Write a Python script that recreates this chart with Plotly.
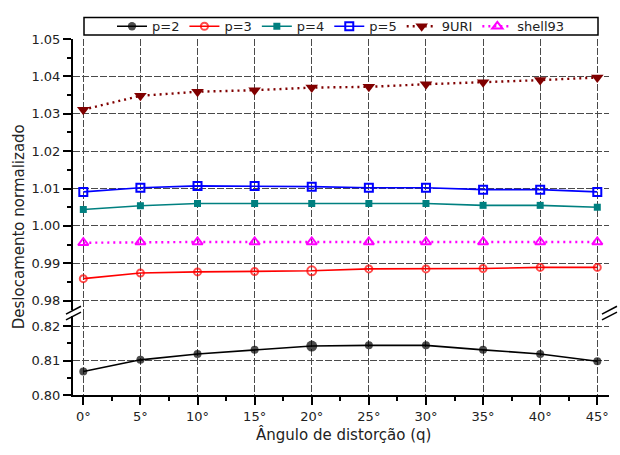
import plotly.graph_objects as go

# ---------------- data ----------------
angles = [0, 5, 10, 15, 20, 25, 30, 35, 40, 45]
angle_labels = ["0°", "5°", "10°", "15°", "20°", "25°", "30°", "35°", "40°", "45°"]

p2 = [0.8068, 0.8102, 0.8119, 0.8131, 0.8142, 0.8144, 0.8144, 0.8131, 0.8119, 0.8098]
p3 = [0.9859, 0.9874, 0.9877, 0.9878, 0.9880, 0.9885, 0.9885, 0.9886, 0.9889, 0.9889]
p4 = [1.0044, 1.0054, 1.0060, 1.0060, 1.0060, 1.0060, 1.0060, 1.0055, 1.0055, 1.0050]
p5 = [1.0091, 1.0102, 1.0107, 1.0107, 1.0105, 1.0102, 1.0102, 1.0097, 1.0097, 1.0091]
uri9 = [1.0311, 1.0348, 1.0359, 1.0363, 1.0370, 1.0372, 1.0379, 1.0384, 1.0390, 1.0397]
shell93 = [0.9955, 0.9957, 0.9957, 0.9957, 0.9957, 0.9957, 0.9957, 0.9957, 0.9957, 0.9957]

upper_ticks = [0.98, 0.99, 1.00, 1.01, 1.02, 1.03, 1.04, 1.05]
lower_ticks = [0.80, 0.81, 0.82]

# ---------------- layout geometry ----------------
W, H = 620, 455
ML, MR, MT, MB = 73, 11, 30, 60
PW, PH = W - ML - MR, H - MT - MB
BREAK_PX = 311                     # pixel row of the axis break
yb = (H - MB - BREAK_PX) / PH      # paper fraction of the break

FONT = "DejaVu Sans"
TXT = "#222222"
GRID = "#4a4a4a"

fig = go.Figure()

def add(name, y, axis, color, symbol, size, dash, lw=1.6, mlw=1.6, fill=True):
    fig.add_trace(go.Scatter(
        x=angles, y=y, name=name, mode="lines+markers", yaxis=axis,
        line=dict(color=color, width=lw, dash=dash),
        marker=dict(symbol=symbol, size=size, color=color if fill else "white",
                    line=dict(color=color, width=mlw)),
        cliponaxis=False,
    ))

add("p=2", p2, "y", "#000000", "circle", [8, 8, 8, 8, 11, 8, 8, 8, 8, 8], "solid", mlw=0)
add("p=3", p3, "y2", "#ff0000", "circle-open", [7, 7, 7, 7, 9, 7, 7, 7, 7, 7], "solid", mlw=2)
add("p=4", p4, "y2", "#008080", "square", 7, "solid", mlw=0)
add("p=5", p5, "y2", "#0000ff", "square-open", 8, "solid", mlw=2)
add("9URI", uri9, "y2", "#800000", "triangle-down", 11, "2px,4px", lw=2.4, mlw=0)
add("shell93", shell93, "y2", "#ff00ff", "triangle-up-open", 9, "2px,4px", lw=2.4, mlw=2)

xr = [-(83.3 - ML) / ((597.3 - 83.3) / 45), (W - MR - 83.3) / ((597.3 - 83.3) / 45)]
up_scale = (298.3 - MT) / 0.07
lo_scale = (H - MB - 324.3) / 0.02
yr_up = [1.05 - (BREAK_PX - MT) / up_scale, 1.05]
yr_lo = [0.80, 0.80 + (H - MB - BREAK_PX) / lo_scale]

tickfont = dict(family=FONT, size=13, color=TXT)
common_grid = dict(showgrid=True, gridcolor=GRID, gridwidth=1, griddash="7px,2px",
                   zeroline=False, showline=True, linecolor="black", linewidth=2)

fig.update_layout(
    width=W, height=H,
    margin=dict(l=ML, r=MR, t=MT, b=MB, pad=0),
    paper_bgcolor="white", plot_bgcolor="white",
    font=dict(family=FONT, color=TXT),
    showlegend=True,
    legend=dict(orientation="h", x=0.5, xanchor="center",
                y=(H - MB - 17) / PH, yanchor="middle",
                bgcolor="rgba(0,0,0,0)", borderwidth=0,
                font=dict(family=FONT, size=13, color=TXT),
                itemwidth=30, tracegroupgap=0),
    xaxis=dict(range=xr, tickmode="array", tickvals=angles, ticktext=angle_labels,
               ticks="outside", ticklen=8, tickwidth=1.5, tickcolor="black",
               tickfont=tickfont, anchor="y",
               minor=dict(dtick=2.5, tick0=0, ticks="outside", ticklen=4,
                          tickwidth=1.5, tickcolor="black", showgrid=False),
               **common_grid),
    xaxis2=dict(range=xr, overlaying="x", side="top", anchor="y2",
                tickmode="array", tickvals=angles, showticklabels=False,
                ticks="inside", ticklen=8, tickwidth=1.5, tickcolor="black",
                minor=dict(dtick=2.5, tick0=0, ticks="inside", ticklen=4,
                           tickwidth=1.5, tickcolor="black"),
                showgrid=False, zeroline=False, showline=True,
                linecolor="black", linewidth=2),
    yaxis=dict(domain=[0, yb], range=yr_lo, tickmode="array", tickvals=lower_ticks,
               tickformat=".2f", ticks="outside", ticklen=8, tickwidth=1.5,
               tickcolor="black", tickfont=tickfont, anchor="x",
               minor=dict(dtick=0.005, tick0=0.8, ticks="outside", ticklen=4,
                          tickwidth=1.5, tickcolor="black", showgrid=False),
               **common_grid),
    yaxis2=dict(domain=[yb, 1], range=yr_up, tickmode="array", tickvals=upper_ticks,
                tickformat=".2f", ticks="outside", ticklen=8, tickwidth=1.5,
                tickcolor="black", tickfont=tickfont, anchor="x",
                minor=dict(dtick=0.005, tick0=0.98, ticks="outside", ticklen=4,
                           tickwidth=1.5, tickcolor="black", showgrid=False),
                **common_grid),
    yaxis3=dict(range=yr_lo, overlaying="y", side="right", anchor="x",
                tickmode="array", tickvals=lower_ticks, showticklabels=False,
                ticks="inside", ticklen=8, tickwidth=1.5, tickcolor="black",
                minor=dict(dtick=0.005, tick0=0.8, ticks="inside", ticklen=4,
                           tickwidth=1.5, tickcolor="black"),
                showgrid=False, zeroline=False, showline=True,
                linecolor="black", linewidth=2),
    yaxis4=dict(range=yr_up, overlaying="y2", side="right", anchor="x",
                tickmode="array", tickvals=upper_ticks, showticklabels=False,
                ticks="inside", ticklen=8, tickwidth=1.5, tickcolor="black",
                minor=dict(dtick=0.005, tick0=0.98, ticks="inside", ticklen=4,
                           tickwidth=1.5, tickcolor="black"),
                showgrid=False, zeroline=False, showline=True,
                linecolor="black", linewidth=2),
)

# legend frame
fx = lambda px: (px - ML) / PW
fy = lambda py: (H - MB - py) / PH
fig.add_shape(type="rect", xref="paper", yref="paper",
              x0=fx(84), x1=fx(598), y0=fy(26), y1=fy(8),
              line=dict(color="black", width=1.5), fillcolor="rgba(0,0,0,0)", layer="above")

# axis break marks on both sides
for ax_px in (ML, W - MR):
    fig.add_shape(type="rect", xref="paper", yref="paper",
                  x0=fx(ax_px - 2), x1=fx(ax_px + 2),
                  y0=fy(BREAK_PX + 3), y1=fy(BREAK_PX - 3),
                  line=dict(width=0), fillcolor="white", layer="above")
    for off in (-3, 3):
        fig.add_shape(type="line", xref="paper", yref="paper",
                      x0=fx(ax_px - 7), y0=fy(BREAK_PX + off + 4),
                      x1=fx(ax_px + 8), y1=fy(BREAK_PX + off - 4),
                      line=dict(color="black", width=1.5), layer="above")

# axis titles
fig.add_annotation(text="Deslocamento normalizado", textangle=-90,
                   xref="paper", yref="paper", x=fx(19), y=fy(223),
                   xanchor="center", yanchor="middle", showarrow=False,
                   font=dict(family=FONT, size=15, color=TXT))
fig.add_annotation(text="Ângulo de distorção (q)",
                   xref="paper", yref="paper", x=fx(343), y=fy(436),
                   xanchor="center", yanchor="middle", showarrow=False,
                   font=dict(family=FONT, size=15, color=TXT))

fig.write_html("out.html")
